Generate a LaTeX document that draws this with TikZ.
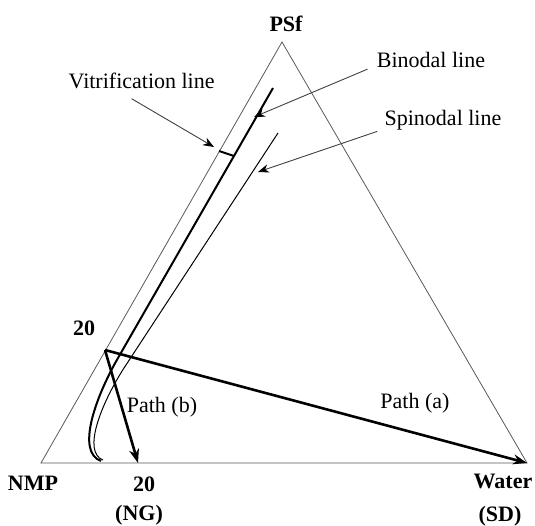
\documentclass[tikz,border=0pt]{standalone}
\usepackage{fontspec}
\setmainfont{Liberation Serif}
\usetikzlibrary{arrows.meta}
\begin{document}
\begin{tikzpicture}[x=0.5pt,y=-0.5pt,>={Stealth[length=5.5pt,width=4.2pt,black]},
		font=\fontsize{11}{13}\selectfont,
		edge/.style={gray!70!black,line width=0.4pt},
		pointer/.style={->,gray!50!black,line width=0.45pt},
		patharrow/.style={-{Stealth[length=7pt,width=5pt]},line width=1.3pt},
		lbl/.style={inner sep=0pt},
		bold/.style={inner sep=0pt,font=\fontsize{11}{13}\selectfont\bfseries}]
		\useasboundingbox (0,0) rectangle (535,525);
		% corners of the phase diagram
		\coordinate (nmp) at (41,463);
		\coordinate (psf) at (282,42);
		\coordinate (water) at (527,463);
		\coordinate (p20) at (105,350);
		\coordinate (ng) at (138,463);
		\draw[edge] (nmp)--(psf)--(water)--cycle;
		% binodal and spinodal
		\draw[line width=1pt] (273,88)--(118,358) .. controls (95,398) and (76,452) .. (101,461);
		\draw[line width=0.5pt] (278,133)--(124,368) .. controls (101,404) and (82,452) .. (103,460);
		\draw[line width=1pt] (219,151)--(234,156);
		\coordinate (bintip) at (254,117);
		\coordinate (spintip) at (258,172);
		\coordinate (vittip) at (214,147);
		% labels
		\node[bold] (psflbl) at (286,24) {PSf};
		\node[lbl] (binlbl) at (431,60) {Binodal line};
		\node[lbl] (spinlbl) at (443,120) {Spinodal line};
		\node[lbl,anchor=base east] (vitlbl) at (215,88) {Vitrification line};
		\node[bold] (lbl20) at (84,328) {20};
		\node[bold] (nmplbl) at (33,483) {NMP};
		\node[bold] (ng20) at (144,484) {20};
		\node[bold] (nglbl) at (139,515) {(NG)};
		\node[bold] (waterlbl) at (503,481) {Water};
		\node[bold] (sdlbl) at (500,516) {(SD)};
		\node[lbl] (pathb) at (162,407) {Path (b)};
		\node[lbl] (patha) at (415,403) {Path (a)};
		% pointers
		\draw[pointer] ([shift={(-9,1)}]binlbl.south west)--(bintip);
		\draw[pointer] ([shift={(-7,1)}]spinlbl.south west)--(spintip);
		\draw[pointer] ([shift={(-10,10)}]vitlbl.south)--(vittip);
		% paths
		\draw[patharrow] (p20)--(water);
		\draw[patharrow] (p20)--(ng);
		\end{tikzpicture}
\end{document}
